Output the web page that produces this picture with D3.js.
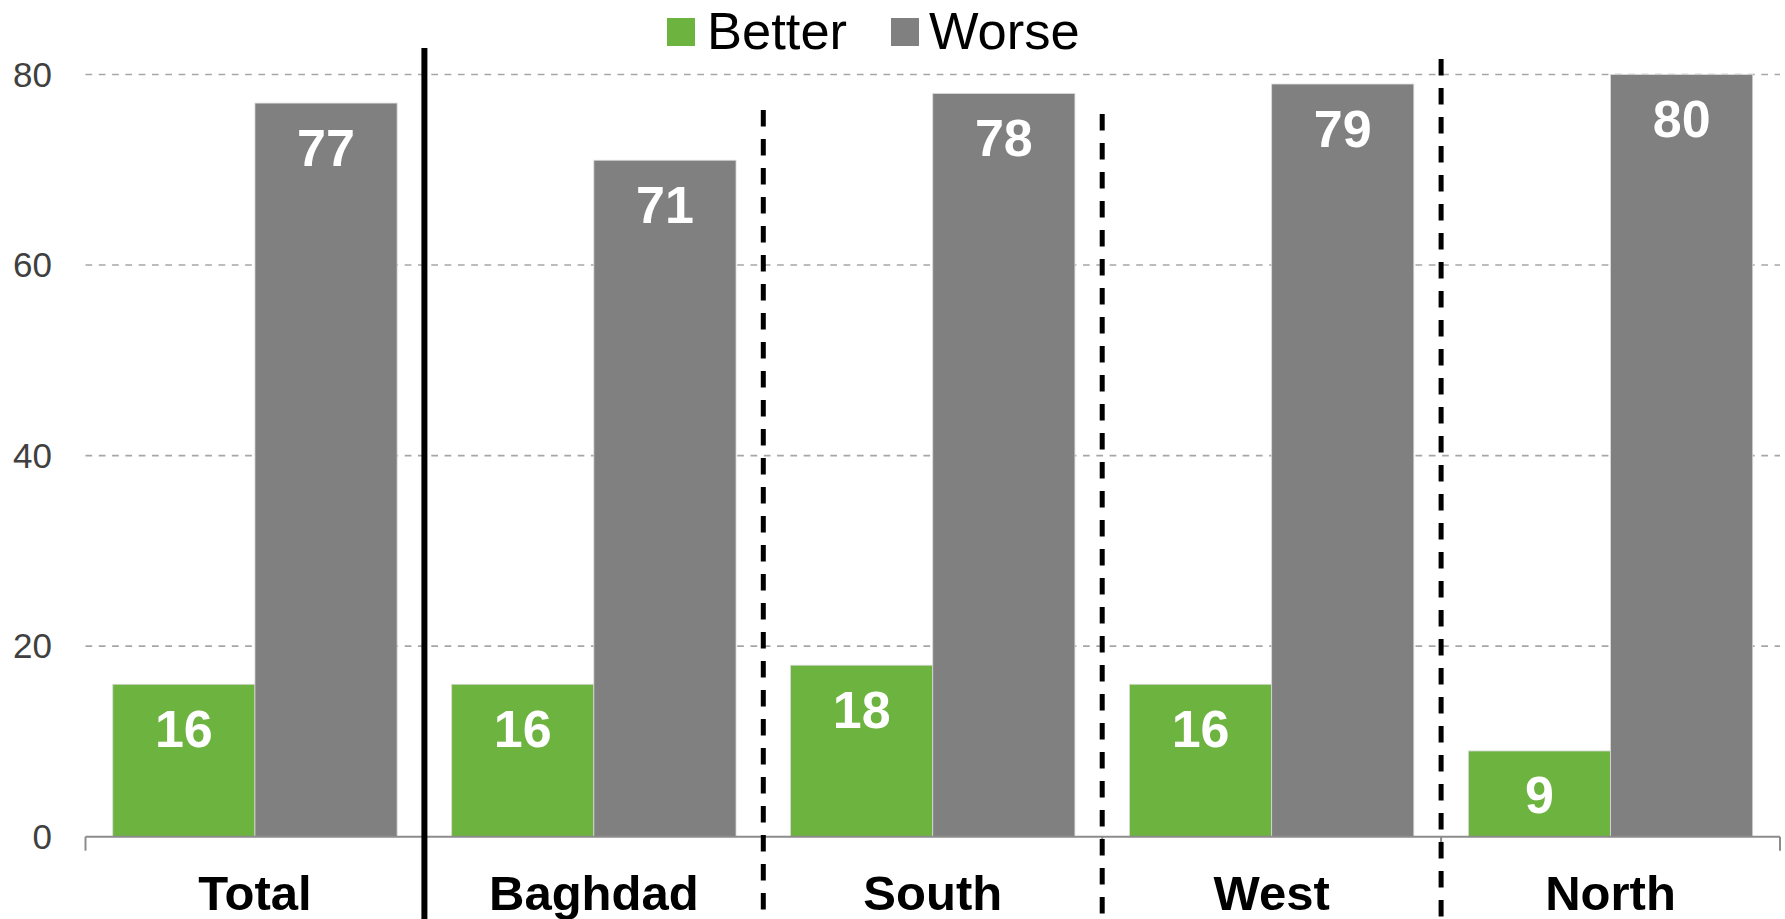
<!DOCTYPE html>
<html>
<head>
<meta charset="utf-8">
<script src="https://cdn.jsdelivr.net/npm/d3@7"></script>
<style>
  html, body { margin: 0; padding: 0; background: #ffffff; }
  svg { display: block; font-family: "Liberation Sans", Arial, sans-serif; }
</style>
</head>
<body>
<svg id="chart" width="1785" height="919"></svg>
<script>
// ---- data ----
const categories = ["Total", "Baghdad", "South", "West", "North"];
const seriesNames = ["Better", "Worse"];
const betterValues = [16, 16, 18, 16, 9];
const worseValues = [77, 71, 78, 79, 80];
const yTickValues = [0, 20, 40, 60, 80];

// ---- layout ----
const W = 1785, H = 919;
const plot = { left: 85.5, right: 1780, top: 74.5, bottom: 836.7 };
const colors = { Better: "#6db33f", Worse: "#808080" };
// separators after category index: style + top in px
const separators = [
  { after: 0, dashed: false, top: 48 },
  { after: 1, dashed: true, top: 110 },
  { after: 2, dashed: true, top: 114 },
  { after: 3, dashed: true, top: 59 }
];

const svg = d3.select("#chart");

const x = d3.scaleBand()
  .domain(categories)
  .range([plot.left, plot.right])
  .paddingInner(0.161)
  .paddingOuter(0.0805);

const xs = d3.scaleBand()
  .domain(seriesNames)
  .range([0, x.bandwidth()])
  .padding(0);

const y = d3.scaleLinear().domain([0, 80]).range([plot.bottom, plot.top]);

// gridlines
svg.append("g")
  .selectAll("line")
  .data(yTickValues.filter(d => d > 0))
  .join("line")
  .attr("x1", plot.left)
  .attr("x2", plot.right)
  .attr("y1", d => y(d))
  .attr("y2", d => y(d))
  .attr("stroke", "#a6a6a6")
  .attr("stroke-width", 1.6)
  .attr("stroke-dasharray", "6.7,6.6");

// y tick labels
svg.append("g")
  .selectAll("text")
  .data(yTickValues)
  .join("text")
  .attr("x", 52)
  .attr("y", d => y(d))
  .attr("dy", "0.35em")
  .attr("text-anchor", "end")
  .attr("font-size", 35)
  .attr("fill", "#404040")
  .text(d => d);

// bars
const rows = categories.map((c, i) => ({ cat: c, values: [
  { s: "Better", v: betterValues[i] },
  { s: "Worse", v: worseValues[i] }
]}));

const groups = svg.append("g")
  .selectAll("g")
  .data(rows)
  .join("g")
  .attr("transform", d => `translate(${x(d.cat)},0)`);

groups.selectAll("rect")
  .data(d => d.values)
  .join("rect")
  .attr("x", d => xs(d.s))
  .attr("width", xs.bandwidth())
  .attr("y", d => y(d.v))
  .attr("height", d => y(0) - y(d.v))
  .attr("fill", d => colors[d.s])
  .attr("stroke", "#d9d9d9")
  .attr("stroke-width", 0.8);

groups.selectAll("text")
  .data(d => d.values)
  .join("text")
  .attr("x", d => xs(d.s) + xs.bandwidth() / 2)
  .attr("y", d => y(d.v) + 62.5)
  .attr("text-anchor", "middle")
  .attr("font-size", 52)
  .attr("font-weight", "bold")
  .attr("fill", "#ffffff")
  .text(d => d.v);

// x axis line + ticks
const axisG = svg.append("g");
axisG.append("line")
  .attr("x1", plot.left).attr("x2", plot.right)
  .attr("y1", y(0)).attr("y2", y(0))
  .attr("stroke", "#8c8c8c").attr("stroke-width", 2);
const tickXs = categories.map(c => x(c) - x.step() * x.paddingInner() / 2).concat([plot.right]);
tickXs[0] = plot.left;
axisG.selectAll("line.tick")
  .data(tickXs)
  .join("line")
  .attr("class", "tick")
  .attr("x1", d => d).attr("x2", d => d)
  .attr("y1", y(0)).attr("y2", y(0) + 14)
  .attr("stroke", "#8c8c8c").attr("stroke-width", 2);

// category labels
svg.append("g")
  .selectAll("text")
  .data(categories)
  .join("text")
  .attr("x", d => x(d) + x.bandwidth() / 2)
  .attr("y", 910)
  .attr("text-anchor", "middle")
  .attr("font-size", 49)
  .attr("font-weight", "bold")
  .attr("fill", "#000000")
  .text(d => d);

// separators
svg.append("g")
  .selectAll("line")
  .data(separators)
  .join("line")
  .attr("x1", d => x(categories[d.after]) + x.bandwidth() + x.step() * x.paddingInner() / 2)
  .attr("x2", d => x(categories[d.after]) + x.bandwidth() + x.step() * x.paddingInner() / 2)
  .attr("y1", d => d.top)
  .attr("y2", H)
  .attr("stroke", "#000000")
  .attr("stroke-width", d => d.dashed ? 5 : 6)
  .attr("stroke-dasharray", d => d.dashed ? "16.5,12.5" : null);

// legend
const legend = svg.append("g");
const legendItems = [
  { name: seriesNames[0], sx: 667, tx: 707 },
  { name: seriesNames[1], sx: 891, tx: 929 }
];
legend.selectAll("rect")
  .data(legendItems)
  .join("rect")
  .attr("x", d => d.sx)
  .attr("y", 18)
  .attr("width", 28)
  .attr("height", 28)
  .attr("fill", d => colors[d.name]);
legend.selectAll("text")
  .data(legendItems)
  .join("text")
  .attr("x", d => d.tx)
  .attr("y", 49)
  .attr("font-size", 52.5)
  .attr("fill", "#000000")
  .text(d => d.name);
</script>
</body>
</html>
